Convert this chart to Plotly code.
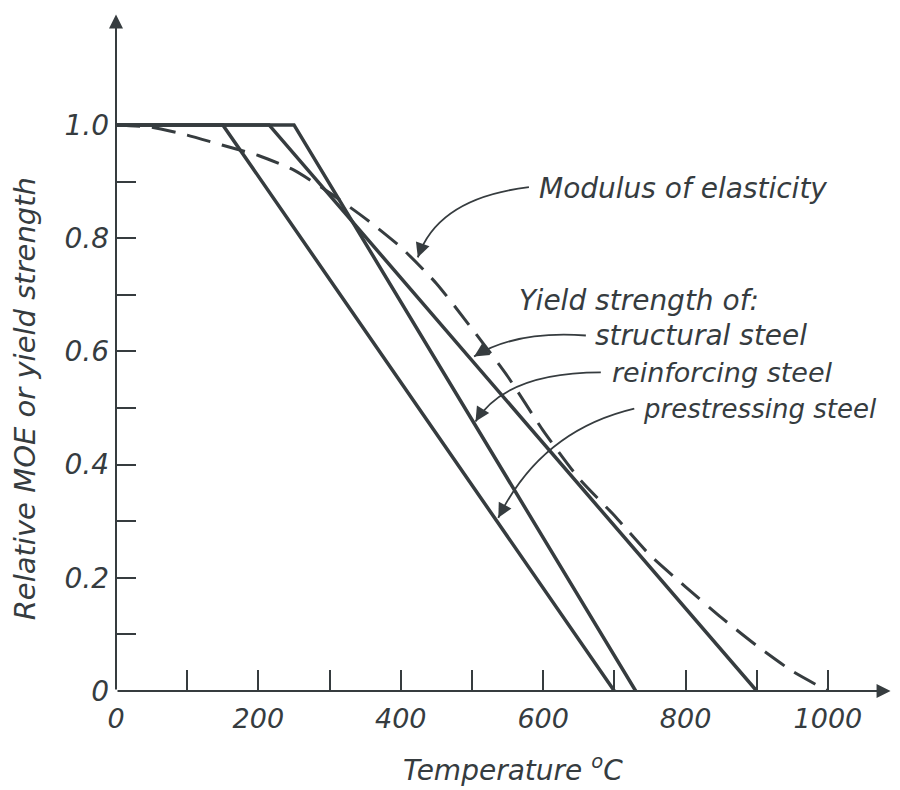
import plotly.graph_objects as go

# ---- data ----
moe_temp = [0, 50, 100, 150, 200, 250, 300, 350, 400, 450, 500, 550, 600, 650, 700, 750, 800, 850, 900, 950, 1000]
moe_val = [1.0, 0.996, 0.982, 0.964, 0.946, 0.92, 0.88, 0.835, 0.784, 0.72, 0.64, 0.556, 0.46, 0.376, 0.31, 0.24, 0.184, 0.13, 0.08, 0.035, 0.0]

structural_temp = [0, 215, 900]
structural_val = [1.0, 1.0, 0.0]

reinforcing_temp = [0, 250, 730]
reinforcing_val = [1.0, 1.0, 0.0]

prestressing_temp = [0, 150, 700]
prestressing_val = [1.0, 1.0, 0.0]

x_tickvals = [0, 100, 200, 300, 400, 500, 600, 700, 800, 900, 1000]
x_ticktext = ["0", " ", "200", " ", "400", " ", "600", " ", "800", " ", "1000"]
y_tickvals = [0, 0.1, 0.2, 0.3, 0.4, 0.5, 0.6, 0.7, 0.8, 0.9, 1.0]
y_ticktext = ["0", " ", "0.2", " ", "0.4", " ", "0.6", " ", "0.8", " ", "1.0"]

INK = "#363c3f"
FONT = "DejaVu Sans"

fig = go.Figure()

fig.add_trace(go.Scatter(x=moe_temp, y=moe_val, mode="lines",
                         line=dict(color=INK, width=3, dash="24px,12px", shape="spline", smoothing=0.6),
                         name="Modulus of elasticity", hoverinfo="skip"))
for tx, vy, nm in [(structural_temp, structural_val, "structural steel"),
                   (reinforcing_temp, reinforcing_val, "reinforcing steel"),
                   (prestressing_temp, prestressing_val, "prestressing steel")]:
    fig.add_trace(go.Scatter(x=tx, y=vy, mode="lines", line=dict(color=INK, width=3.5),
                             name=nm, hoverinfo="skip"))

annotations = []
# axis arrows
annotations.append(dict(x=1088, y=0, ax=0, ay=0, xref="x", yref="y", axref="x", ayref="y",
                        text="", showarrow=True, arrowhead=2, arrowsize=1.4, arrowwidth=2, arrowcolor=INK))
annotations.append(dict(x=0, y=1.195, ax=0, ay=0, xref="x", yref="y", axref="x", ayref="y",
                        text="", showarrow=True, arrowhead=2, arrowsize=1.4, arrowwidth=2, arrowcolor=INK))

# labels
labels = [
    ("Modulus of elasticity", 591, 0.888, 28),
    ("Yield strength of:", 563, 0.690, 28),
    ("structural steel", 670, 0.628, 28),
    ("reinforcing steel", 694, 0.563, 27),
    ("prestressing steel", 738, 0.499, 26),
]
for txt, lx, ly, fs in labels:
    annotations.append(dict(x=lx, y=ly, xref="x", yref="y", text=txt, showarrow=False,
                            xanchor="left", yanchor="middle",
                            font=dict(family=FONT, size=fs, color=INK, style="italic")))

# axis titles
annotations.append(dict(x=558, y=-0.114, xref="x", yref="paper", text="Temperature <sup>o</sup>C",
                        showarrow=False, xanchor="center", yanchor="middle",
                        font=dict(family=FONT, size=28, color=INK, style="italic")))
annotations.append(dict(x=-0.118, y=0.516, xref="paper", yref="y", text="Relative MOE or yield strength",
                        showarrow=False, xanchor="center", yanchor="middle", textangle=-90,
                        font=dict(family=FONT, size=29, color=INK, style="italic")))

# leader curves (start, control, end) and arrowhead offsets
leaders = [
    ((580, 0.890), (452, 0.871), (424, 0.766), (5, -14)),
    ((660, 0.628), (562, 0.637), (503, 0.591), (13, -8)),
    ((681, 0.563), (548, 0.563), (505, 0.476), (8, -13)),
    ((728, 0.499), (597, 0.460), (537, 0.306), (7, -13)),
]
shapes = []
for (s, c, e, off) in leaders:
    shapes.append(dict(type="path", xref="x", yref="y",
                       path=f"M {s[0]},{s[1]} Q {c[0]},{c[1]} {e[0]},{e[1]}",
                       line=dict(color=INK, width=1.8)))
    annotations.append(dict(x=e[0], y=e[1], ax=off[0], ay=off[1], xref="x", yref="y",
                            text="", showarrow=True, arrowhead=2, arrowsize=1.6,
                            arrowwidth=1.8, arrowcolor=INK, standoff=0))

fig.update_layout(
    width=884, height=782,
    margin=dict(l=108, r=0, t=2, b=99),
    paper_bgcolor="white", plot_bgcolor="white",
    showlegend=False,
    annotations=annotations,
    shapes=shapes,
    xaxis=dict(range=[0, 1090], showgrid=False, zeroline=False, showline=False,
               tickmode="array", tickvals=x_tickvals, ticktext=x_ticktext,
               ticks="inside", ticklen=21, tickwidth=2, tickcolor=INK,
               tickfont=dict(family=FONT, size=27, color=INK, style="italic"),
               ticklabelstandoff=9),
    yaxis=dict(range=[0, 1.203], showgrid=False, zeroline=False, showline=False,
               tickmode="array", tickvals=y_tickvals, ticktext=y_ticktext,
               ticks="inside", ticklen=20, tickwidth=2, tickcolor=INK,
               tickfont=dict(family=FONT, size=28, color=INK, style="italic"),
               ticklabelstandoff=6),
)

fig.write_html("out.html")
